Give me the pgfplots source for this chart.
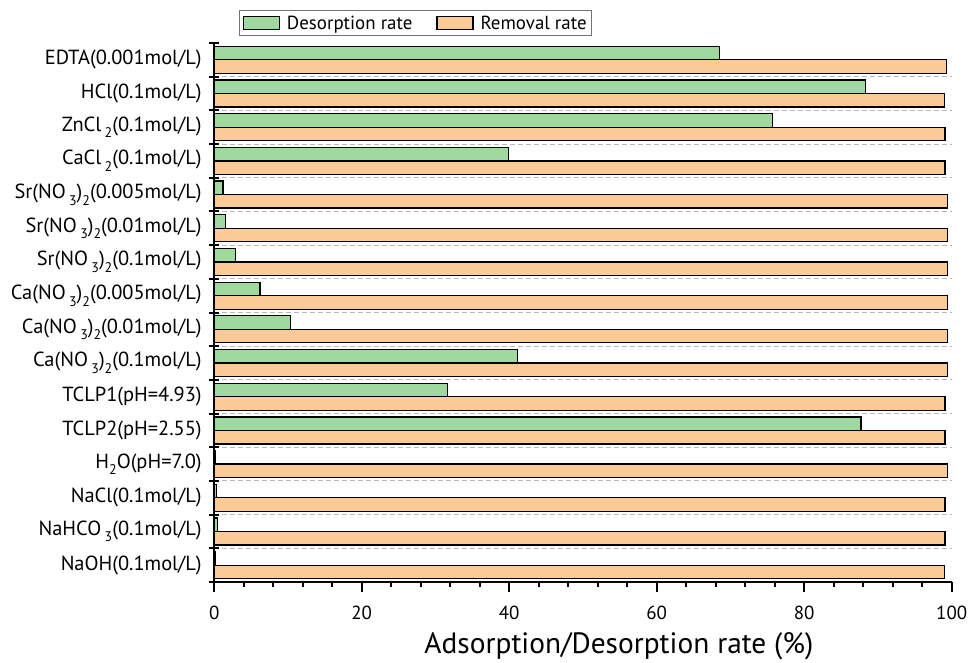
\documentclass[border=0pt]{standalone}
\usepackage{pgfplots}
\pgfplotsset{compat=1.18}
\usepackage{fontspec}
\setmainfont{PT Sans}
\definecolor{gfill}{RGB}{160,217,158}
\definecolor{ofill}{RGB}{252,202,150}
\newcommand{\sub}[1]{\raisebox{-0.32em}{\fontsize{14}{14}\selectfont #1}}
\begin{document}
\begin{tikzpicture}
\begin{axis}[
  name=ax,
  scale only axis,
  width=737.5bp, height=539bp,
  xmin=0, xmax=100, ymin=-0.5, ymax=15.5,
  axis x line*=bottom, axis y line*=left,
  axis line style={line width=2.2bp, black},
  tick align=outside,
  xtick={0,20,...,100},
  minor x tick num=4,
  major tick length=10bp, minor tick length=5bp,
  every tick/.style={black, line width=2bp},
  ytick={-0.5,0.5,...,15.5},
  yticklabels={},
  y tick style={xshift=4.5bp},
  minor ytick={0.5,1.5,...,14.5},
  minor y tick style={draw=none},
  yminorgrids,
  minor grid style={dashed, black!28, line width=1bp, dash pattern=on 5bp off 3bp},
  extra y ticks={0,...,15},
  extra y tick labels={
    {NaOH(0.1mol/L)\hspace{4bp}},
    {NaHCO\,\sub{3}(0.1mol/L)},
    {NaCl(0.1mol/L)\hspace{4bp}},
    {H\sub{2}O(pH=7.0)},
    {TCLP2(pH=2.55)\hspace{7bp}},
    {TCLP1(pH=4.93)\hspace{7bp}},
    {Ca(NO\,\sub{3})\sub{2}(0.1mol/L)},
    {Ca(NO\,\sub{3})\sub{2}(0.01mol/L)},
    {Ca(NO\,\sub{3})\sub{2}(0.005mol/L)},
    {Sr(NO\,\sub{3})\sub{2}(0.1mol/L)},
    {Sr(NO\,\sub{3})\sub{2}(0.01mol/L)},
    {Sr(NO\,\sub{3})\sub{2}(0.005mol/L)},
    {CaCl\,\sub{2}(0.1mol/L)},
    {ZnCl\,\sub{2}(0.1mol/L)},
    {HCl(0.1mol/L)\hspace{4bp}},
    {EDTA(0.001mol/L)\hspace{7bp}}},
  extra y tick style={major tick length=0pt, yticklabel style={font=\fontsize{20.5}{20.5}\selectfont, xshift=-9bp}},
  xticklabel style={font=\fontsize{19}{19}\selectfont, yshift=-10bp},
  /pgf/number format/assume math mode=true,
  xlabel={Adsorption/Desorption rate (\%)},
  xlabel style={font=\fontsize{29.5}{29.5}\selectfont, xshift=36bp, yshift=-6bp},
  legend columns=2,
  legend image code/.code={\draw[#1,/tikz/.cd,line width=1.2bp] (0bp,-6.5bp) rectangle (36bp,6.5bp);},
  legend style={at={(0.034,1.013)}, anchor=south west, draw=black!55, line width=1bp,
    font=\fontsize{19}{19}\selectfont, inner xsep=3bp, inner ysep=3bp,
    /tikz/every odd column/.append style={column sep=5bp},
    /tikz/every even column/.append style={column sep=22bp}},
]
\addplot[xbar, bar width=13.5bp, bar shift=6.75bp, fill=gfill, draw=black, line width=1.2bp]
  coordinates {(0.2,0) (0.5,1) (0.35,2) (0.15,3) (87.7,4) (31.6,5) (41.1,6) (10.3,7) (6.2,8) (2.9,9) (1.55,10) (1.2,11) (39.9,12) (75.7,13) (88.3,14) (68.5,15)};
\addlegendentry{Desorption rate}
\addplot[xbar, bar width=13.5bp, bar shift=-6.75bp, fill=ofill, draw=black, line width=1.2bp]
  coordinates {(99.0,0) (99.1,1) (99.1,2) (99.45,3) (99.1,4) (99.1,5) (99.45,6) (99.45,7) (99.45,8) (99.45,9) (99.45,10) (99.45,11) (99.1,12) (99.1,13) (99.05,14) (99.3,15)};
\addlegendentry{Removal rate}
\end{axis}
\path (ax.south west) ++(-214.2bp,-75bp) rectangle ++(972bp,657bp);
\end{tikzpicture}
\end{document}
